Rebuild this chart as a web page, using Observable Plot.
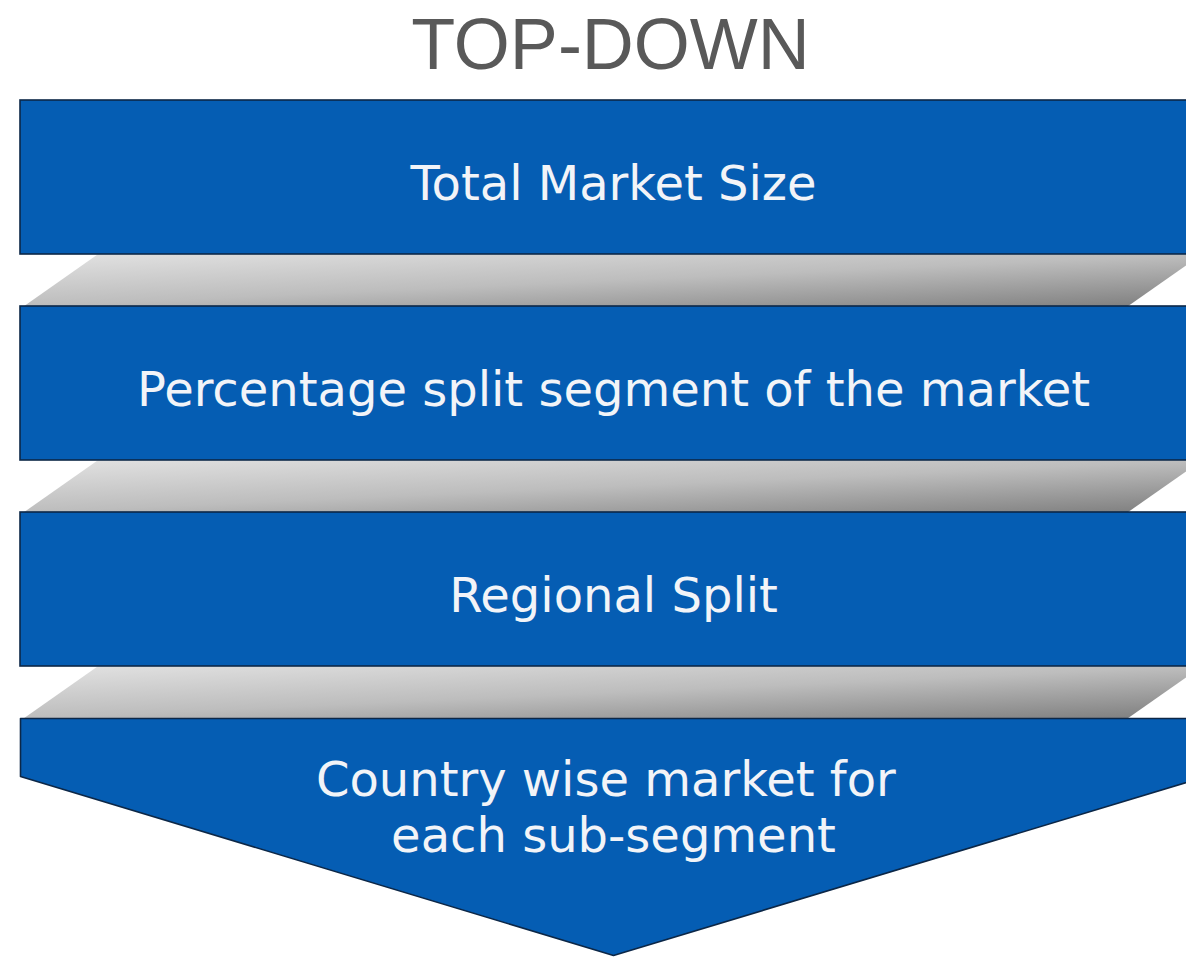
<!DOCTYPE html>
<html>
<head>
<meta charset="utf-8">
<script src="https://cdn.jsdelivr.net/npm/d3@7"></script>
<script src="https://cdn.jsdelivr.net/npm/@observablehq/plot@0.6"></script>
<style>
  html, body { margin: 0; padding: 0; background: #ffffff; }
  #chart svg { display: block; }
</style>
</head>
<body>
<div id="chart"></div>
<script>
// ---- data ----
const title = "TOP-DOWN";
const steps = [
  "Total Market Size",
  "Percentage split segment of the market",
  "Regional Split",
  "Country wise market for\u00a0\neach sub-segment"
];

// ---- layout ----
const W = 1186, H = 957;
const left = 20, right = 1206, cx = 613;
const top0 = 100, boxH = 154, gapH = 52, step = boxH + gapH;
const slant = 74, connInsetL = 3, connRight = 1127;
const arrowSide = 58, arrowTip = 955;

const blue = "#055db3", edge = "#0c2747";

const boxes = steps.slice(0, 3).map((s, i) => ({y1: top0 + i * step, y2: top0 + i * step + boxH, label: s}));

const lastTop = top0 + 3 * step;
const arrowPts = [
  {x: left, y: lastTop}, {x: right, y: lastTop},
  {x: right, y: lastTop + arrowSide}, {x: cx, y: arrowTip},
  {x: left, y: lastTop + arrowSide}
];

const conns = [];
for (let i = 0; i < 3; i++) {
  const t = top0 + i * step + boxH, b = t + gapH;
  const xl = left + connInsetL;
  conns.push({k: i, x: xl + slant, y: t});
  conns.push({k: i, x: connRight + slant, y: t});
  conns.push({k: i, x: connRight, y: b});
  conns.push({k: i, x: xl, y: b});
}

const labels = steps.map((s, i) => ({
  label: s,
  y: i < 3 ? top0 + i * step + boxH / 2 + 22 : lastTop + 133
}));

const chart = Plot.plot({
  width: W, height: H,
  margin: 0,
  x: {domain: [0, W], range: [0, W], axis: null},
  y: {domain: [0, H], range: [0, H], axis: null},
  marks: [
    Plot.line(conns, {x: "x", y: "y", z: "k", curve: "linear-closed", fill: "url(#grayGrad)", stroke: "none"}),
    Plot.rect(boxes, {x1: left, x2: right, y1: "y1", y2: "y2", fill: blue, stroke: edge, strokeWidth: 1.6}),
    Plot.line(arrowPts, {x: "x", y: "y", curve: "linear-closed", fill: blue, stroke: edge, strokeWidth: 1.6}),
    Plot.text([title], {x: 610, y: 68, text: d => d, fontSize: 72, fill: "#595959", fontFamily: "Liberation Sans, Arial, sans-serif", textAnchor: "middle", lineAnchor: "bottom"}),
    Plot.text(labels, {x: cx, y: "y", text: "label", fontSize: 48, fill: "#f2f4f8", fontFamily: "DejaVu Sans, Verdana, sans-serif", textAnchor: "middle", lineAnchor: "bottom", lineHeight: 1.15})
  ]
});

// gradient definition for the grey connectors
const ns = "http://www.w3.org/2000/svg";
const defs = document.createElementNS(ns, "defs");
const grad = document.createElementNS(ns, "linearGradient");
grad.setAttribute("id", "grayGrad");
grad.setAttribute("x1", "0"); grad.setAttribute("y1", "0");
grad.setAttribute("x2", "1"); grad.setAttribute("y2", "1");
[["0", "#e2e2e2"], ["0.5", "#bdbdbd"], ["1", "#7d7d7d"]].forEach(([o, c]) => {
  const st = document.createElementNS(ns, "stop");
  st.setAttribute("offset", o); st.setAttribute("stop-color", c);
  grad.appendChild(st);
});
defs.appendChild(grad);
chart.insertBefore(defs, chart.firstChild);

document.getElementById("chart").appendChild(chart);
</script>
</body>
</html>
